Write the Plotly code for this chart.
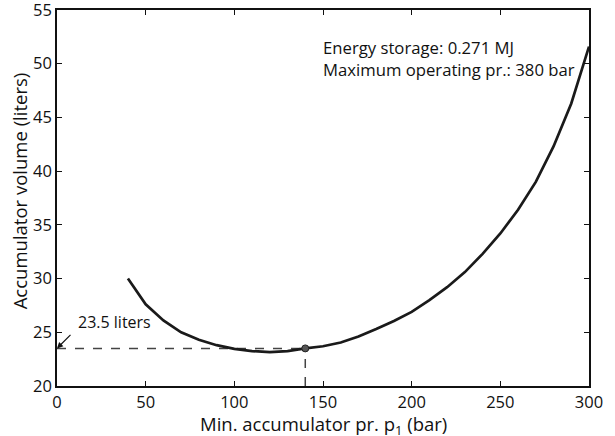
import plotly.graph_objects as go

# Data
p1_bar = [40, 50, 60, 70, 80, 90, 100, 110, 120, 130, 140, 150, 160, 170, 180,
          190, 200, 210, 220, 230, 240, 250, 260, 270, 280, 290, 300]
volume_liters = [30.0, 27.6, 26.1, 25.0, 24.3, 23.8, 23.45, 23.25, 23.15, 23.25, 23.5,
                 23.7, 24.05, 24.6, 25.3, 26.05, 26.9, 28.0, 29.2, 30.6, 32.3, 34.2,
                 36.4, 39.0, 42.3, 46.3, 51.6]
opt_p1 = 140
opt_vol = 23.5
x_ticks = [0, 50, 100, 150, 200, 250, 300]
y_ticks = [20, 25, 30, 35, 40, 45, 50, 55]

font_family = "Open Sans, Noto Sans, sans-serif"
ink = "#111111"

fig = go.Figure()
fig.add_trace(go.Scatter(x=[0, opt_p1], y=[opt_vol, opt_vol], mode="lines",
                         line=dict(color="#444444", width=1.5, dash="dash"),
                         showlegend=False, hoverinfo="skip"))
fig.add_trace(go.Scatter(x=[opt_p1, opt_p1], y=[20, opt_vol], mode="lines",
                         line=dict(color="#444444", width=1.5, dash="dash"),
                         showlegend=False, hoverinfo="skip"))
fig.add_trace(go.Scatter(x=p1_bar, y=volume_liters, mode="lines",
                         line=dict(color="#1a1a1a", width=2.7),
                         showlegend=False))
fig.add_trace(go.Scatter(x=[opt_p1], y=[opt_vol], mode="markers",
                         marker=dict(color="#555555", size=7,
                                     line=dict(color="#222222", width=1)),
                         showlegend=False))

# arrow to the y-axis at 23.5 liters
fig.add_annotation(x=0, y=opt_vol, xref="x", yref="y", text="",
                   showarrow=True, arrowhead=2, arrowsize=1, arrowwidth=1.2,
                   arrowcolor=ink, ax=15, ay=-15)
fig.add_annotation(x=10.5, y=26.0, xref="x", yref="y", text="23.5 liters",
                   showarrow=False, xanchor="left", yanchor="middle",
                   font=dict(family=font_family, size=16, color=ink))
fig.add_annotation(x=0.497, y=0.935, xref="paper", yref="paper", xanchor="left",
                   yanchor="top", showarrow=False, align="left",
                   text="Energy storage: 0.271 MJ<br>Maximum operating pr.: 380 bar",
                   font=dict(family=font_family, size=16.7, color=ink))

# axis titles
fig.add_annotation(x=0.5, y=0, xref="paper", yref="paper", xanchor="center",
                   yanchor="top", yshift=-23, showarrow=False,
                   text="Min. accumulator pr. p<sub>1</sub> (bar)",
                   font=dict(family=font_family, size=18.5, color=ink))
fig.add_annotation(x=0, y=0.519, xref="paper", yref="paper", xanchor="center",
                   yanchor="middle", xshift=-37.5, showarrow=False, textangle=-90,
                   text="Accumulator volume (liters)",
                   font=dict(family=font_family, size=18.5, color=ink))

axis_common = dict(showline=True, linecolor=ink, linewidth=1.5, mirror="ticks",
                   ticks="inside", ticklen=5, tickwidth=1, tickcolor=ink,
                   showgrid=False, zeroline=False, automargin=False,
                   ticklabeloverflow="allow",
                   tickfont=dict(family=font_family, size=16.5, color=ink))

fig.update_xaxes(range=[0, 300], tickvals=x_ticks, **axis_common)
fig.update_yaxes(range=[20, 55], tickvals=y_ticks, **axis_common)

fig.update_layout(width=615, height=436, plot_bgcolor="white", paper_bgcolor="white",
                  margin=dict(l=57, r=26, t=10, b=50))

# remove the default 8px page margin so the figure fills the window exactly
fig.write_html("out.html", config={"displayModeBar": False},
               post_script="document.body.style.margin='0';")
